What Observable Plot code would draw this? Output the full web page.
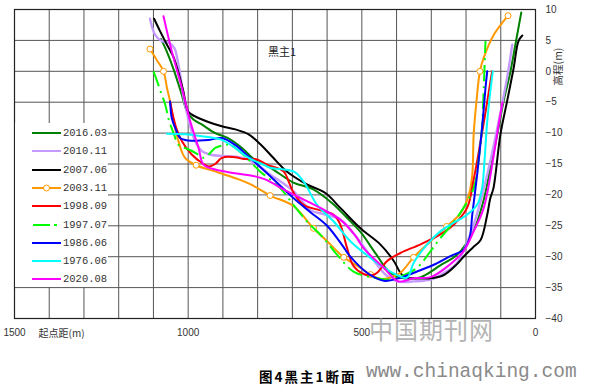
<!DOCTYPE html>
<html><head><meta charset="utf-8">
<script src="https://cdn.jsdelivr.net/npm/d3@7"></script>
<script src="https://cdn.jsdelivr.net/npm/@observablehq/plot@0.6"></script>
<style>
body{margin:0;background:#fff;}
#wrap{position:relative;width:597px;height:385px;overflow:hidden;background:#fff;}
#legend{position:absolute;left:15px;top:123px;width:93px;height:164px;background:#fff;}
.row{position:absolute;left:0;height:14px;display:flex;align-items:center;font-family:"Liberation Mono",monospace;font-size:10.5px;color:#333;}
.row svg{margin-left:17px;margin-right:2px;}
#caption{position:absolute;left:259px;top:366px;font-family:"Noto Sans CJK SC",sans-serif;font-weight:bold;font-size:13.5px;letter-spacing:2px;color:#000;white-space:nowrap;}
#wm1{position:absolute;left:366px;top:363px;line-height:19px;font-family:"Liberation Mono",monospace;font-size:19.5px;color:#8a8a8a;white-space:nowrap;}
#wm2{position:absolute;left:369px;top:311px;font-family:"Noto Sans CJK SC",sans-serif;font-size:24px;color:#b4b4b4;letter-spacing:1px;white-space:nowrap;}
</style></head>
<body><div id="wrap"><div id="chart"></div><div id="legend"></div>
<div id="wm2">中国期刊网</div>
<div id="caption">图4黑主1断面</div>
<div id="wm1">www.chinaqking.com</div>
</div>
<script>
const xTicks = [1500, 1000, 500, 0];
const yTicks = [10, 5, 0, -5, -10, -15, -20, -25, -30, -35, -40];
const seriesNames = ["2016.03", "2010.11", "2007.06", "2003.11", "1998.09", "1997.07", "1986.06", "1976.06", "2020.08"];
const seriesColors = ["#008000", "#c59bff", "#000000", "#ff9900", "#ff0000", "#00ff00", "#0000ff", "#00ffff", "#ff00ff"];
const chartTitle = [{d: 730, e: 3, text: "黑主1"}];

// [起点距 m, 高程 m]
const s2016_03 = [[1078,5.2],[1060,3],[1040,0],[1020,-3.5],[1003,-6.5],[985,-7.8],[961,-8.6],[922,-10],[885,-10.8],[845,-12.4],[807,-14.4],[764,-15.6],[697,-18],[640,-19.1],[582,-21.5],[543,-23.7],[504,-26],[460,-29.5],[420,-32.5],[380,-33.5],[330,-33.3],[274,-31.4],[226,-29.7],[179,-25.9],[150,-21],[130,-15.7],[110,-10.2],[92,-4.9],[72,0],[58,4.3],[41,9.5]];
const s2010_11 = [[1110,8.5],[1095,5.9],[1076,4.9],[1055,4.6],[1040,3.8],[1033,2.5],[1023,-0.5],[1013,-4.3],[1000,-7.6],[980,-11.3],[961,-12.9],[935,-13.5],[900,-13.7],[864,-13.8],[830,-14.2],[802,-15.1],[764,-16.7],[697,-19.4],[648,-22.5],[611,-23.1],[562,-24],[520,-26.5],[467,-30.5],[430,-33],[398,-34],[350,-34],[302,-33.7],[260,-32.5],[226,-31],[179,-25],[139,-16.7],[110,-9.2],[82,-1.1],[67,4.3]];
const s2007_06 = [[1098,8.5],[1081,6.5],[1061,4.3],[1043,2.4],[1029,0],[1014,-3.2],[1000,-6.5],[980,-7.3],[942,-8.2],[903,-8.9],[864,-9.4],[826,-10.2],[792,-11.8],[755,-14],[716,-16.2],[658,-18.3],[605,-19.7],[562,-22.1],[504,-25.4],[447,-28],[408,-30.7],[389,-32.6],[375,-33.4],[351,-33.5],[302,-33.5],[265,-33],[226,-31.2],[207,-30],[180,-28.5],[158,-27.3],[140,-23.5],[130,-20.5],[121,-18.9],[101,-10.2],[82,-4.9],[63,0.5],[49,4.9],[38,5.8]];
const s2003_11 = [[1110,3.6],[1090,1.8],[1071,0],[1061,-2.7],[1052,-4.9],[1042,-8.1],[1028,-11.3],[1009,-14],[977,-15.2],[922,-16.2],[864,-17.3],[820,-18.3],[764,-20.1],[697,-21.8],[639,-25.4],[600,-27.5],[552,-30.1],[504,-31.8],[475,-32.9],[445,-33.6],[420,-33.4],[389,-32.6],[351,-30.1],[302,-27.5],[256,-25.1],[216,-23],[192,-20],[182,-16.7],[178,-10.2],[170,-4.9],[160,0],[149,2.2],[120,5.9],[79,9]];
const m2003_11 = [[1110,3.6],[1071,0],[977,-15.2],[764,-20.1],[639,-25.4],[552,-30.1],[475,-32.9],[351,-30.1],[256,-25.1],[160,0],[79,9]];
const s1998_09 = [[1052,-4.9],[1042,-7.6],[1033,-9.4],[1018,-11.3],[989,-13.5],[961,-14.8],[941,-15.4],[922,-15],[903,-14],[864,-13.9],[841,-14.2],[807,-14.2],[773,-15.1],[725,-16.2],[711,-17.8],[696,-19.7],[668,-21.6],[620,-22.5],[581,-23.2],[562,-24.8],[543,-28.5],[524,-31.5],[495,-32.8],[470,-33],[456,-32.6],[427,-30.7],[389,-29.4],[331,-28],[274,-26.4],[235,-24.8],[197,-22.1],[178,-17.5],[158,-11.3],[139,-4.9],[125,0]];
const s1997_07 = [[1100,0],[1090,-1.5],[1081,-3],[1066,-5.4],[1055,-8],[1042,-10],[1028,-11.9],[1010,-12.4],[989,-12.9],[970,-13.5],[956,-14],[940,-13.4],[922,-12.4],[893,-11.9],[879,-11.9],[841,-13.5],[793,-16.2],[735,-18.9],[697,-21.6],[658,-24.3],[610,-27],[571,-29.7],[524,-32.4],[466,-33.4],[420,-33.7],[380,-33],[341,-31.8],[302,-29.1],[274,-27],[226,-23.7],[178,-18.9],[163,-14],[154,-9.2],[149,-2.7],[144,4.9]];
const s1986_06 = [[1052,-4.9],[1047,-7.6],[1037,-9.2],[1023,-10.8],[999,-11.2],[941,-11.1],[903,-10.8],[865,-11.9],[826,-13.8],[773,-16.5],[697,-20.5],[648,-22.8],[600,-25],[552,-28.5],[533,-30],[485,-32.6],[437,-33.9],[389,-33.4],[341,-32.4],[293,-31.3],[245,-29.9],[207,-28.9],[190,-27],[182,-23.2],[168,-16.7],[154,-9.2],[144,-2.7],[139,0]];
const s1976_06 = [[1061,-10.1],[1009,-10.2],[961,-10.5],[903,-11.1],[865,-12.4],[826,-14],[783,-15.1],[764,-15.6],[697,-16.2],[668,-17.8],[629,-21.6],[581,-24.3],[533,-27.5],[475,-30.2],[418,-32.4],[370,-33.4],[351,-31],[312,-28],[274,-25.9],[235,-24.5],[197,-23.2],[168,-21.6],[154,-19],[147,-14.6],[139,-8.1],[130,-3.2],[123,0]];
const s2020_08 = [[1071,8.9],[1047,3.2],[1018,-2.7],[994,-8.1],[970,-12.4],[956,-15.1],[922,-15.9],[865,-16.5],[807,-17],[778,-17.5],[716,-19.4],[658,-21],[610,-22.4],[562,-24],[520,-26.5],[495,-28.6],[437,-31.8],[394,-34],[351,-33.5],[302,-33.3],[254,-31.6],[207,-29.1],[178,-25.9],[149,-22.1],[120,-13.5],[106,-8.6],[95,-5]];

const seriesData = [s2016_03, s2010_11, s2007_06, s2003_11, s1998_09, s1997_07, s1986_06, s1976_06, s2020_08];
const dashes = {"1997.07": "16,5,2,5"};
const widths = {"2010.11": 2.4};

const toRows = (arr, name) => arr.map(([d, e]) => ({d, e, name}));

const marks = [
  Plot.gridX({ticks: d3.range(0, 1501, 100), stroke: "#555", strokeOpacity: 1, strokeWidth: 1}),
  Plot.gridY({ticks: yTicks, stroke: "#555", strokeOpacity: 1, strokeWidth: 1}),
  Plot.frame({stroke: "#222", strokeWidth: 1.2}),
  Plot.axisX({ticks: xTicks, tickSize: 0, tickPadding: 10, tickFormat: d => String(d), fontSize: 10, fill: "#333", label: null}),
  Plot.axisY({anchor: "right", ticks: yTicks, tickSize: 0, tickPadding: 10, fontSize: 10, fill: "#333", label: null}),
  Plot.text(["起点距(m)"], {frameAnchor: "bottom-left", dx: 24, dy: 15, textAnchor: "start", lineAnchor: "middle", fontSize: 10, fill: "#333", fontFamily: "Noto Sans CJK SC"}),
  Plot.text(["高程(m)"], {frameAnchor: "top-right", dx: 23, dy: 57, rotate: -90, textAnchor: "middle", lineAnchor: "middle", fontSize: 10.5, fill: "#333", fontFamily: "Noto Sans CJK SC"}),
  Plot.text(chartTitle, {x: "d", y: "e", text: "text", fontSize: 11, fill: "#222", fontFamily: "Noto Sans CJK SC"})
];
seriesNames.forEach((name, i) => {
  marks.push(Plot.line(toRows(seriesData[i], name), {
    x: "d", y: "e", stroke: seriesColors[i], strokeWidth: widths[name] || 2,
    strokeDasharray: dashes[name], strokeLinecap: dashes[name] ? "butt" : "round",
    curve: "catmull-rom"
  }));
  if (name === "2003.11") {
    marks.push(Plot.dot(toRows(m2003_11, name), {x: "d", y: "e", r: 3, fill: "white", stroke: seriesColors[i], strokeWidth: 1}));
  }
});

const chart = Plot.plot({
  width: 597, height: 345,
  marginLeft: 14, marginRight: 62, marginTop: 9, marginBottom: 27,
  x: {domain: [1500, 0], label: null},
  y: {domain: [-40, 10], label: null},
  style: {fontFamily: "Liberation Sans, sans-serif", background: "white"},
  marks
});
document.getElementById("chart").appendChild(chart);

const legend = document.getElementById("legend");
seriesNames.forEach((name, i) => {
  const row = document.createElement("div");
  row.className = "row";
  row.style.top = (3 + i * 18.3) + "px";
  const c = seriesColors[i];
  let sw = "";
  if (name === "1997.07") {
    sw = `<line x1="1" y1="5" x2="18" y2="5" stroke="${c}" stroke-width="2"/><line x1="22" y1="5" x2="25" y2="5" stroke="${c}" stroke-width="2"/>`;
  } else {
    sw = `<line x1="0" y1="5" x2="29" y2="5" stroke="${c}" stroke-width="2"/>`;
    if (name === "2003.11") sw += `<circle cx="14.5" cy="5" r="3" fill="white" stroke="${c}" stroke-width="1"/>`;
  }
  row.innerHTML = `<svg width="29" height="10">${sw}</svg><span>${name}</span>`;
  legend.appendChild(row);
});
</script>
</body></html>
